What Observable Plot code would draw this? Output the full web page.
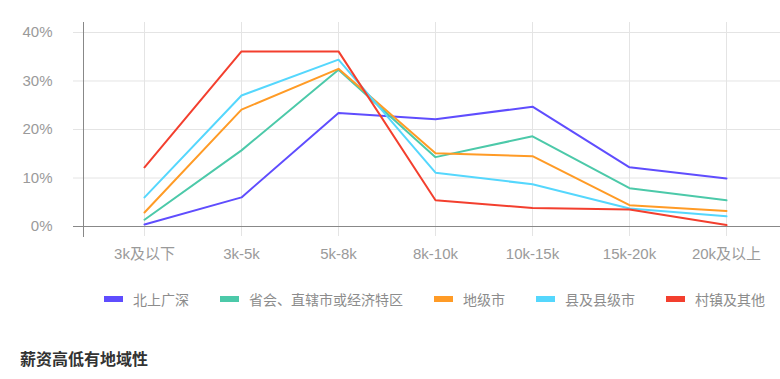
<!DOCTYPE html>
<html>
<head>
<meta charset="utf-8">
<script src="https://cdn.jsdelivr.net/npm/d3@7"></script>
<script src="https://cdn.jsdelivr.net/npm/@observablehq/plot@0.6"></script>
<style>
  html, body { margin: 0; padding: 0; background: #fff; }
  body { width: 780px; height: 379px; position: relative; overflow: hidden;
         font-family: "Liberation Sans", "Noto Sans CJK SC", sans-serif; }
  #chart { position: absolute; left: 0; top: 0; }
  #legend { position: absolute; top: 290px; left: 104px; display: flex; align-items: center;
            font-size: 14px; color: #8c8c8c; font-family: "Noto Sans CJK SC", sans-serif; line-height: 18px;
            white-space: nowrap; width: 700px; }
  #legend .item { display: flex; align-items: center; margin-right: 31px; flex: none; }
  #legend .sw { display: inline-block; width: 19px; height: 6px; margin-right: 10px; }
  #title { position: absolute; top: 346px; left: 20px; font-size: 16px; font-weight: bold; color: #333;
           font-family: "Noto Sans CJK SC", sans-serif; }
</style>
</head>
<body>
<div id="chart"></div>
<div id="legend"></div>
<div id="title">薪资高低有地域性</div>
<script>
const categories = ["3k及以下", "3k-5k", "5k-8k", "8k-10k", "10k-15k", "15k-20k", "20k及以上"];
const seriesNames = ["北上广深", "省会、直辖市或经济特区", "地级市", "县及县级市", "村镇及其他"];
const seriesColors = ["#5f4dfe", "#4cc9a9", "#ff9b26", "#55d7fd", "#f33f2e"];
const tier1 = [0.4, 6.0, 23.4, 22.1, 24.7, 12.2, 9.9];
const provincial = [1.4, 15.7, 32.3, 14.3, 18.6, 7.9, 5.4];
const prefecture = [2.9, 24.1, 32.5, 15.1, 14.5, 4.4, 3.2];
const county = [6.0, 27.0, 34.4, 11.1, 8.7, 3.7, 2.1];
const town = [12.2, 36.1, 36.1, 5.4, 3.8, 3.5, 0.3];
const yTicks = [0, 10, 20, 30, 40];

const seriesValues = [tier1, provincial, prefecture, county, town];
const rows = [];
seriesNames.forEach((s, i) => {
  categories.forEach((c, j) => rows.push({series: s, cat: c, value: seriesValues[i][j]}));
});

const chart = Plot.plot({
  width: 780,
  height: 270,
  marginLeft: 83,
  marginRight: 0,
  marginTop: 22,
  marginBottom: 34,
  x: {type: "point", domain: categories, range: [144, 726], padding: 0, label: null},
  y: {domain: [-2.06, 42.06], label: null},
  color: {domain: seriesNames, range: seriesColors},
  style: {fontFamily: "'Liberation Sans', 'Noto Sans CJK SC', sans-serif", fontSize: "15px", background: "transparent", overflow: "visible"},
  marks: [
    Plot.ruleY(yTicks.filter(d => d > 0), {stroke: "#e4e4e4"}),
    Plot.ruleX(categories, {stroke: "#e4e4e4"}),
    Plot.axisY({ticks: yTicks.filter(d => d > 0), tickSize: 10, tickPadding: 21, stroke: "#e4e4e4", fill: "#9a9a9a", tickFormat: d => d + "%", fontSize: 15}),
    Plot.axisY({ticks: [0], tickSize: 10, tickPadding: 21, stroke: "#888", fill: "#9a9a9a", tickFormat: d => d + "%", fontSize: 15}),
    Plot.ruleY([0], {stroke: "#888"}),
    Plot.frame({anchor: "left", stroke: "#888"}),
    Plot.axisX({tickSize: 0, tickPadding: 12, fill: "#9a9a9a", fontSize: 15}),
    Plot.line(rows, {x: "cat", y: "value", z: "series", stroke: "series", strokeWidth: 2})
  ]
});
document.getElementById("chart").appendChild(chart);

const legend = document.getElementById("legend");
seriesNames.forEach((s, i) => {
  const item = document.createElement("div");
  item.className = "item";
  const sw = document.createElement("span");
  sw.className = "sw";
  sw.style.background = seriesColors[i];
  const t = document.createElement("span");
  t.textContent = s;
  item.appendChild(sw);
  item.appendChild(t);
  legend.appendChild(item);
});
</script>
</body>
</html>
